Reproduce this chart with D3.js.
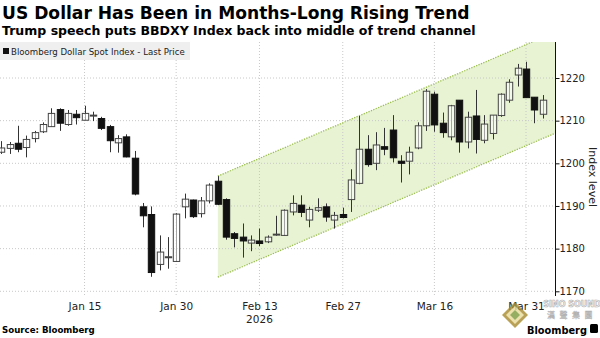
<!DOCTYPE html>
<html>
<head>
<meta charset="utf-8">
<script src="https://cdn.jsdelivr.net/npm/d3@7"></script>
<style>
  html, body { margin: 0; padding: 0; background: #fff; }
  svg { display: block; }
</style>
</head>
<body>
<svg id="chart" width="600" height="338"></svg>
<script>
// Bloomberg Dollar Spot Index, daily candles (weekdays)
const dates = [
  "2026-01-01","2026-01-02","2026-01-05","2026-01-06","2026-01-07","2026-01-08","2026-01-09",
  "2026-01-12","2026-01-13","2026-01-14","2026-01-15","2026-01-16",
  "2026-01-19","2026-01-20","2026-01-21","2026-01-22","2026-01-23",
  "2026-01-26","2026-01-27","2026-01-28","2026-01-29","2026-01-30",
  "2026-02-02","2026-02-03","2026-02-04","2026-02-05","2026-02-06",
  "2026-02-09","2026-02-10","2026-02-11","2026-02-12","2026-02-13",
  "2026-02-16","2026-02-17","2026-02-18","2026-02-19","2026-02-20",
  "2026-02-23","2026-02-24","2026-02-25","2026-02-26","2026-02-27",
  "2026-03-02","2026-03-03","2026-03-04","2026-03-05","2026-03-06",
  "2026-03-09","2026-03-10","2026-03-11","2026-03-12","2026-03-13",
  "2026-03-16","2026-03-17","2026-03-18","2026-03-19","2026-03-20",
  "2026-03-23","2026-03-24","2026-03-25","2026-03-26","2026-03-27",
  "2026-03-30","2026-03-31","2026-04-01","2026-04-02"
];
const open = [
  1202.6,1203.5,1204.7,1203.7,1205.8,1207.4,1208.6,
  1212.6,1209.1,1211.5,1210.1,1211.1,
  1210.5,1208.6,1204.8,1206.2,1201.2,
  1189.8,1188.0,1176.3,1177.9,1177.0,
  1189.8,1191.4,1188.2,1191.2,1195.8,
  1191.5,1183.5,1182.7,1181.3,1181.8,
  1181.6,1183.2,1183.1,1188.6,1190.2,
  1186.7,1189.0,1189.8,1186.7,1188.0,
  1191.5,1195.3,1203.3,1200.0,1203.9,
  1207.8,1200.5,1200.5,1203.6,1208.8,
  1216.2,1209.4,1206.2,1214.8,1205.0,
  1211.1,1205.4,1207.0,1211.2,1214.8,
  1220.7,1222.1,1215.5,1211.5
];
const high = [
  1205.2,1205.0,1208.8,1206.5,1207.6,1209.6,1212.9,
  1212.9,1212.5,1212.5,1213.5,1212.1,
  1210.9,1209.0,1206.6,1206.8,1202.9,
  1190.7,1189.9,1183.1,1182.7,1188.3,
  1192.9,1191.5,1192.1,1195.3,1197.0,
  1191.8,1183.9,1185.9,1183.1,1184.7,
  1183.1,1187.7,1189.2,1192.5,1192.5,
  1189.8,1191.8,1190.6,1188.6,1189.6,
  1198.6,1211.1,1206.6,1207.3,1208.3,
  1211.3,1201.9,1203.9,1209.6,1217.4,
  1216.8,1211.9,1213.7,1214.8,1212.1,
  1217.2,1211.3,1211.3,1216.4,1219.7,
  1223.3,1223.8,1215.5,1216.0
];
const low = [
  1202.2,1202.2,1202.6,1201.4,1204.9,1207.1,1208.6,
  1207.6,1208.8,1209.1,1210.1,1209.9,
  1207.8,1202.6,1202.5,1201.4,1192.5,
  1185.0,1173.4,1174.9,1175.3,1176.9,
  1187.1,1187.2,1187.3,1190.6,1190.2,
  1182.1,1180.3,1177.9,1179.4,1180.6,
  1181.3,1183.0,1183.0,1187.8,1187.4,
  1185.0,1188.6,1186.3,1184.7,1187.1,
  1188.6,1195.1,1199.2,1198.4,1201.9,
  1200.2,1195.5,1197.4,1203.3,1207.6,
  1207.4,1206.0,1205.4,1202.5,1203.5,
  1202.3,1204.7,1205.6,1210.9,1214.2,
  1218.0,1215.4,1209.4,1210.5
];
const close = [
  1203.6,1204.4,1203.3,1205.6,1207.2,1209.1,1211.7,
  1209.4,1211.7,1210.7,1211.7,1211.3,
  1208.2,1205.3,1205.8,1201.5,1192.8,
  1187.7,1174.4,1179.2,1178.1,1188.1,
  1191.6,1187.5,1191.2,1194.9,1190.4,
  1182.7,1182.4,1181.8,1182.0,1181.2,
  1182.7,1183.4,1189.0,1190.6,1188.5,
  1189.2,1189.6,1187.4,1187.8,1187.3,
  1196.1,1203.3,1199.7,1204.3,1203.3,
  1201.3,1200.0,1202.6,1208.8,1216.9,
  1209.0,1207.2,1213.5,1205.0,1210.8,
  1205.6,1209.2,1211.3,1216.2,1219.0,
  1222.3,1215.4,1212.5,1214.8
];

// Trend channel anchors
const channelDates = ["2026-02-06", "2026-04-02"];
const channelUpper = [1197.0, 1229.5];
const channelLower = [1173.3, 1205.8];

// Axis ticks
const xTickDates = ["2026-01-15","2026-01-30","2026-02-13","2026-02-27","2026-03-16","2026-03-31"];
const xTickLabels = ["Jan 15","Jan 30","Feb 13","Feb 27","Mar 16","Mar 31"];
const yTicks = [1170, 1180, 1190, 1200, 1210, 1220];

const svg = d3.select("#chart");
const plot = { left: 0, right: 555, top: 42, bottom: 296 };
const FONT = "DejaVu Sans, Verdana, sans-serif";

const idx = d => dates.indexOf(d);
const x = d3.scaleLinear()
  .domain([-0.15, dates.length - 1 + 1.48])
  .range([plot.left, plot.right]);
const y = d3.scaleLinear()
  .domain([1170, 1220])
  .range([291.3, 78]);

// clip for everything inside the plot
svg.append("defs").append("clipPath").attr("id", "plotClip")
  .append("rect")
  .attr("x", plot.left).attr("y", plot.top)
  .attr("width", plot.right - plot.left).attr("height", plot.bottom - plot.top);

const inner = svg.append("g").attr("clip-path", "url(#plotClip)");

// channel, extended to the right edge of the plot
const c0 = idx(channelDates[0]), c1 = idx(channelDates[1]);
const xEnd = x.domain()[1];
const extend = (vals) => vals[0] + (vals[1] - vals[0]) * (xEnd - c0) / (c1 - c0);
const upperEnd = extend(channelUpper), lowerEnd = extend(channelLower);
const channelPoly = [
  [x(c0), y(channelUpper[0])], [x(xEnd), y(upperEnd)],
  [x(xEnd), y(lowerEnd)], [x(c0), y(channelLower[0])]
];
inner.append("polygon")
  .attr("points", channelPoly.map(p => p.join(",")).join(" "))
  .attr("fill", "#e7f3d2");

// gridlines
inner.append("g").selectAll("line").data(yTicks).join("line")
  .attr("x1", plot.left).attr("x2", plot.right)
  .attr("y1", d => y(d)).attr("y2", d => y(d))
  .attr("stroke", "#c8c8c8").attr("stroke-width", 1)
  .attr("stroke-dasharray", "1,2");
inner.append("g").selectAll("line").data(xTickDates).join("line")
  .attr("x1", d => x(idx(d))).attr("x2", d => x(idx(d)))
  .attr("y1", plot.top).attr("y2", plot.bottom)
  .attr("stroke", "#c8c8c8").attr("stroke-width", 1)
  .attr("stroke-dasharray", "1,2");

// channel borders
[[channelUpper, upperEnd], [channelLower, lowerEnd]].forEach(([vals, endVal]) => {
  inner.append("line")
    .attr("x1", x(c0)).attr("y1", y(vals[0]))
    .attr("x2", x(xEnd)).attr("y2", y(endVal))
    .attr("stroke", "#9dbf52").attr("stroke-width", 1.3)
    .attr("stroke-dasharray", "1.3,1.3");
});

// legend box
const legend = svg.append("g");
legend.append("rect").attr("x", 0).attr("y", plot.top).attr("width", 190).attr("height", 18)
  .attr("fill", "#efefef");
legend.append("rect").attr("x", 3).attr("y", plot.top + 6).attr("width", 6).attr("height", 6)
  .attr("fill", "#111");
const legText = legend.append("text").attr("x", 11).attr("y", plot.top + 12.5)
  .attr("font-family", FONT).attr("font-size", 9).attr("fill", "#222")
  .text("Bloomberg Dollar Spot Index - Last Price");

// candles
const candles = dates.map((d, i) => ({ i, o: open[i], h: high[i], l: low[i], c: close[i] }));
const bw = 6.4;
const cg = inner.append("g");
cg.selectAll("line.wick").data(candles).join("line")
  .attr("class", "wick")
  .attr("x1", d => Math.round(x(d.i)) + 0.5).attr("x2", d => Math.round(x(d.i)) + 0.5)
  .attr("y1", d => y(d.h)).attr("y2", d => y(d.l))
  .attr("stroke", "#333").attr("stroke-width", 1);
cg.selectAll("rect.body").data(candles).join("rect")
  .attr("class", "body")
  .attr("x", d => Math.round(x(d.i)) + 0.5 - bw / 2)
  .attr("width", bw)
  .attr("y", d => y(Math.max(d.o, d.c)))
  .attr("height", d => Math.max(1, Math.abs(y(d.o) - y(d.c))))
  .attr("fill", d => d.c >= d.o ? "#fff" : "#111")
  .attr("fill-opacity", d => d.c >= d.o ? 0.55 : 1)
  .attr("stroke", d => d.c >= d.o ? "#444" : "#111")
  .attr("stroke-width", 1);

// right value axis
const yAxis = d3.axisRight(y).tickValues(yTicks).tickSize(4).tickSizeOuter(0)
  .tickFormat(d3.format("d"));
const ya = svg.append("g").attr("transform", `translate(${plot.right + 0.5},0)`).call(yAxis);
ya.select(".domain").remove();
ya.append("line").attr("x1", 0).attr("x2", 0).attr("y1", plot.top).attr("y2", plot.bottom)
  .attr("stroke", "#111");
ya.selectAll(".tick line").attr("stroke", "#111");
ya.selectAll(".tick text").attr("font-family", FONT).attr("font-size", 10)
  .attr("fill", "#222").attr("x", 4);

svg.append("text")
  .attr("transform", `translate(589,${(plot.top + plot.bottom) / 2 + 8}) rotate(90)`)
  .attr("text-anchor", "middle").attr("font-family", FONT).attr("font-size", 11)
  .attr("fill", "#222").text("Index level");

// bottom time axis
const xAxis = d3.axisBottom(x)
  .tickValues(xTickDates.map(idx))
  .tickFormat((d, i) => xTickLabels[i])
  .tickSize(0).tickPadding(0);
const xa = svg.append("g").attr("transform", `translate(0,${plot.bottom})`).call(xAxis);
xa.select(".domain").remove();
xa.selectAll(".tick text").attr("font-family", FONT).attr("font-size", 10.5)
  .attr("fill", "#222").attr("dy", null).attr("y", 14);
svg.append("text").attr("x", x(idx("2026-02-13"))).attr("y", plot.bottom + 27)
  .attr("text-anchor", "middle").attr("font-family", FONT).attr("font-size", 10.5)
  .attr("fill", "#222").text("2026");

// titles
function fitWidth(sel, w) {
  const cur = sel.node().getComputedTextLength();
  sel.attr("font-size", parseFloat(sel.attr("font-size")) * w / cur);
}
const title = svg.append("text").attr("x", 2).attr("y", 19)
  .attr("font-family", FONT).attr("font-weight", "bold").attr("font-size", 19)
  .attr("fill", "#000").text("US Dollar Has Been in Months-Long Rising Trend");
fitWidth(title, 468);
const sub = svg.append("text").attr("x", 2).attr("y", 35)
  .attr("font-family", FONT).attr("font-weight", "bold").attr("font-size", 13)
  .attr("fill", "#000").text("Trump speech puts BBDXY Index back into middle of trend channel");
fitWidth(sub, 474);
fitWidth(legText, 174);

// footer
const src = svg.append("text").attr("x", 2).attr("y", 333)
  .attr("font-family", FONT).attr("font-weight", "bold").attr("font-size", 9)
  .attr("fill", "#000").text("Source: Bloomberg");
fitWidth(src, 93);

// watermark badge
const wm = svg.append("g").attr("opacity", 0.8);
wm.append("path").attr("d", "M515,302 L528,315 L515,328 L502,315 Z").attr("fill", "#a88b2e");
wm.append("path").attr("d", "M515,306 L524,315 L515,324 L506,315 Z").attr("fill", "#e9dc9a");
wm.append("path").attr("d", "M515,310 L520,315 L515,320 L510,315 Z").attr("fill", "#7d9a3c");
wm.append("text").attr("x", 572).attr("y", 307).attr("text-anchor", "middle")
  .attr("font-family", FONT).attr("font-weight", "bold").attr("font-size", 8)
  .attr("fill", "#f4f4f4").attr("stroke", "#9a9a9a").attr("stroke-width", 0.6)
  .text("SINO SOUND");
wm.append("text").attr("x", 572).attr("y", 318).attr("text-anchor", "middle")
  .attr("font-family", "Noto Sans CJK TC, sans-serif").attr("font-size", 8)
  .attr("letter-spacing", 4.5)
  .attr("fill", "#f4f4f4").attr("stroke", "#a0a0a0").attr("stroke-width", 0.4)
  .text("漢聲集團");

const bb = svg.append("text").attr("x", 527).attr("y", 334)
  .attr("font-family", FONT).attr("font-weight", "bold").attr("font-size", 12)
  .attr("fill", "#000").text("Bloomberg");
fitWidth(bb, 60);
svg.append("rect").attr("x", 590).attr("y", 324).attr("width", 8).attr("height", 9)
  .attr("rx", 1.5).attr("fill", "#000");
</script>
</body>
</html>
